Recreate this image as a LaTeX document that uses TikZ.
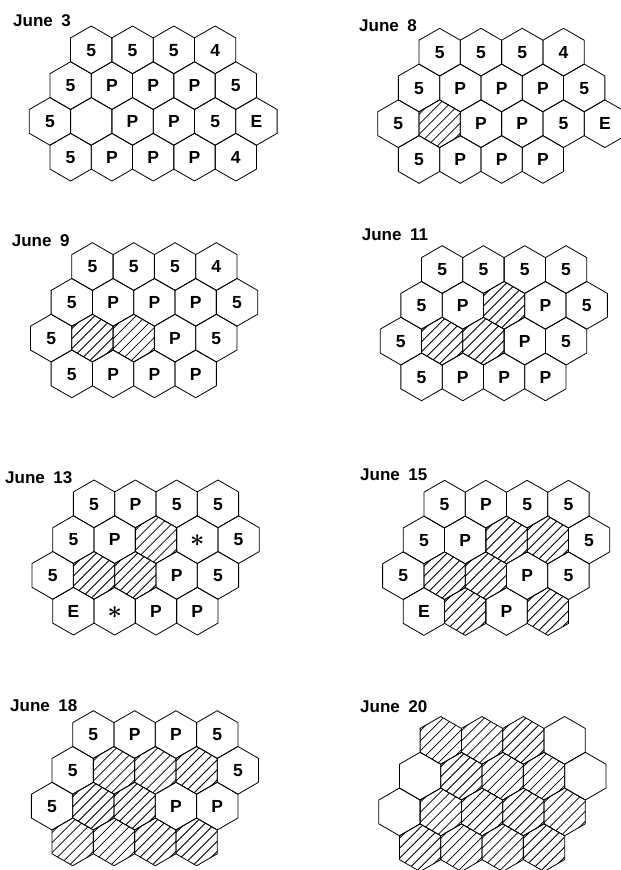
\documentclass[tikz,border=0pt]{standalone}
\usepackage{fontspec}
\setmainfont{Liberation Sans}
\usetikzlibrary{shapes.geometric}
\tikzset{
  hexcell/.style={regular polygon, regular polygon sides=6, shape border rotate=30,
    minimum size=47.7pt, inner sep=0pt, draw=black, line width=0.8pt,
    font=\bfseries\fontsize{17.5}{17.5}\selectfont, text height=12.5pt, text depth=0pt},
  hatched/.style={path picture={
    \foreach \d in {-60,-50,...,60}{
      \draw[line width=0.8pt] ([shift={(\d-30,30)}]path picture bounding box.center) -- ++(60,-60);
    }}},
  datetitle/.style={anchor=base west, inner sep=0pt, font=\bfseries\fontsize{17}{17}\selectfont}
}
\newcommand\cellhex[4]{%
  \edef\tmp{#4}\def\hh{H}\def\bb{-}\def\ss{S}%
  \ifx\tmp\hh \node[hexcell,hatched] (#1) at (#2,#3) {};%
  \else\ifx\tmp\bb \node[hexcell] (#1) at (#2,#3) {};%
  \else\ifx\tmp\ss \node[hexcell] (#1) at (#2,#3) {\raisebox{-1pt}{\fontsize{24}{24}\selectfont\boldmath$\ast$}};%
  \else \node[hexcell] (#1) at (#2,#3) {#4};\fi\fi\fi}
\newcommand\hexrow[4]{%
  \foreach \lab [count=\c from 0] in {#4} {%
    \pgfmathsetmacro\cx{#2+\c*41.3}%
    \cellhex{#1\c}{\cx}{#3}{\lab}%
  }}
\newcommand\hexpanel[7]{%
  \pgfmathsetmacro\ya{#3+23.85}\pgfmathsetmacro\yb{#3+59.63}%
  \pgfmathsetmacro\yc{#3+95.4}\pgfmathsetmacro\yd{#3+131.18}%
  \pgfmathsetmacro\xa{#2+61.95}\pgfmathsetmacro\xb{#2+41.3}\pgfmathsetmacro\xc{#2+20.65}%
  \hexrow{#1a}{\xa}{\ya}{#4}%
  \hexrow{#1b}{\xb}{\yb}{#5}%
  \hexrow{#1c}{\xc}{\yc}{#6}%
  \hexrow{#1d}{\xb}{\yd}{#7}%
}
\begin{document}
\begin{tikzpicture}[x=1pt,y=-1pt]
\clip (0,0) rectangle (621,870);
\fill[white] (0,0) rectangle (621,870);
% titles
\node[datetitle] (t1) at (13,26) {June\hspace{0.5em}3};
\node[datetitle] (t2) at (359,31) {June\hspace{0.5em}8};
\node[datetitle] (t3) at (11.7,246) {June\hspace{0.5em}9};
\node[datetitle] (t4) at (361.7,240) {June\hspace{0.5em}11};
\node[datetitle] (t5) at (5,483) {June\hspace{0.5em}13};
\node[datetitle] (t6) at (360,480) {June\hspace{0.5em}15};
\node[datetitle] (t7) at (10,711) {June\hspace{0.5em}18};
\node[datetitle] (t8) at (360,712) {June\hspace{0.5em}20};
% panels
\hexpanel{A}{29.3}{26}{5,5,5,4}{5,P,P,P,5}{5,-,P,P,5,E}{5,P,P,P,4}
\hexpanel{B}{377.7}{28.3}{5,5,5,4}{5,P,P,P,5}{5,H,P,P,5,E}{5,P,P,P}
\hexpanel{C}{30.5}{242.7}{5,5,5,4}{5,P,P,P,5}{5,H,H,P,5}{5,P,P,P}
\hexpanel{D}{380.2}{245.7}{5,5,5,5}{5,P,H,P,5}{5,H,H,P,5}{5,P,P,P}
\hexpanel{E}{32.1}{480}{5,P,5,5}{5,P,H,S,5}{5,H,H,P,5}{E,S,P,P}
\hexpanel{F}{382.6}{480.3}{5,P,5,5}{5,P,H,H,5}{5,H,H,P,5}{E,H,P,H}
\hexpanel{G}{31.4}{710.7}{5,P,P,5}{5,H,H,H,5}{5,H,H,P,P}{H,H,H,H}
\hexpanel{I}{378.8}{716.5}{H,H,H,-}{-,H,H,H,-}{-,H,H,H,H}{H,H,H,H}
\end{tikzpicture}
\end{document}
